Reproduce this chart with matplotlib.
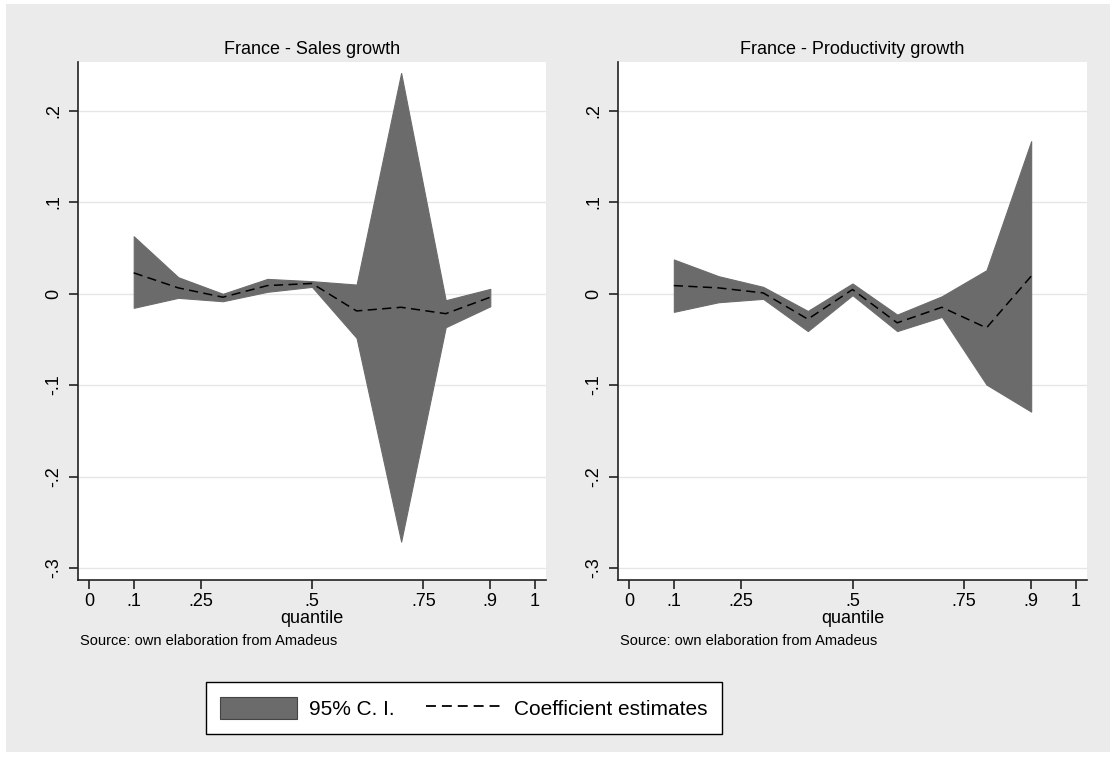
import matplotlib
matplotlib.use("Agg")
import matplotlib.pyplot as plt
from matplotlib.patches import Rectangle, Patch
from matplotlib.lines import Line2D

plt.rcParams['font.family'] = ['Liberation Sans', 'DejaVu Sans']

quantiles = [0.1, 0.2, 0.3, 0.4, 0.5, 0.6, 0.7, 0.8, 0.9]

sales_upper = [0.0626, 0.0178, -0.0003, 0.016, 0.0135, 0.0098, 0.241, -0.0073, 0.0051]
sales_lower = [-0.0156, -0.0047, -0.0084, 0.0019, 0.0073, -0.0485, -0.271, -0.0368, -0.0139]
sales_coef = [0.0226, 0.0062, -0.004, 0.0087, 0.011, -0.019, -0.015, -0.022, -0.004]

prod_upper = [0.0372, 0.019, 0.0073, -0.019, 0.011, -0.023, -0.003, 0.0255, 0.1665]
prod_lower = [-0.020, -0.0095, -0.0058, -0.041, -0.0018, -0.041, -0.0255, -0.0995, -0.129]
prod_coef = [0.0087, 0.0062, 0.0007, -0.028, 0.0044, -0.032, -0.015, -0.0375, 0.019]

titles = ["France - Sales growth", "France - Productivity growth"]
xticks = [0, 0.1, 0.25, 0.5, 0.75, 0.9, 1]
xticklabels = ["0", ".1", ".25", ".5", ".75", ".9", "1"]
yticks = [-0.3, -0.2, -0.1, 0, 0.1, 0.2]
yticklabels = ["-.3", "-.2", "-.1", "0", ".1", ".2"]
source = "Source: own elaboration from Amadeus"
xlabel = "quantile"
legend_labels = ["95% C. I.", "Coefficient estimates"]

W, H = 1115, 757
fig = plt.figure(figsize=(W / 100, H / 100), dpi=100, facecolor='white')
bg = '#ebebeb'
fig.patches.append(Rectangle((6 / W, 1 - 752 / H), (1110 - 6) / W, (752 - 4) / H,
                             transform=fig.transFigure, facecolor=bg, edgecolor='none', zorder=-10))

fillc = '#6b6b6b'
panels = [(78, 546, sales_upper, sales_lower, sales_coef),
          (618, 1087, prod_upper, prod_lower, prod_coef)]
top_px, bot_px = 62, 580

for i, (lpx, rpx, up, lo, co) in enumerate(panels):
    ax = fig.add_axes([lpx / W, 1 - bot_px / H, (rpx - lpx) / W, (bot_px - top_px) / H])
    ax.set_facecolor('white')
    ax.fill_between(quantiles, lo, up, facecolor=fillc, edgecolor=fillc, linewidth=0.8, zorder=2)
    ax.plot(quantiles, co, color='black', linestyle=(0, (6, 3.5)), linewidth=1.1, zorder=3)
    ax.set_xlim(-0.025, 1.025)
    ax.set_ylim(-0.313, 0.253)
    ax.set_yticks(yticks)
    ax.set_yticklabels(yticklabels, rotation=90, va='center', fontsize=13)
    ax.set_xticks(xticks)
    ax.set_xticklabels(xticklabels, fontsize=13)
    ax.grid(axis='y', color='#e6e6e6', linewidth=1.0, zorder=1)
    ax.set_axisbelow(True)
    for s in ['top', 'right']:
        ax.spines[s].set_visible(False)
    for s in ['left', 'bottom']:
        ax.spines[s].set_linewidth(1.2)
        ax.spines[s].set_color('#222222')
    ax.tick_params(axis='both', direction='out', length=6.5, width=1.2, color='#222222', pad=3)
    ax.tick_params(axis='y', pad=5)
    ax.set_title(titles[i], fontsize=13, pad=6)
    ax.set_xlabel(xlabel, fontsize=13, labelpad=0)
    fig.text((lpx + 2) / W, 1 - 641 / H, source, fontsize=10.5, va='center', ha='left')

handles = [Patch(facecolor=fillc, edgecolor='#444444', linewidth=0.8),
           Line2D([0], [0], color='black', linestyle=(0, (5.5, 3.3)), linewidth=1.3)]
leg = fig.legend(handles, legend_labels, loc='center', ncol=2,
                 bbox_to_anchor=(464 / W, 1 - 708 / H), fontsize=15,
                 frameon=True, fancybox=False, edgecolor='black', facecolor='white',
                 handlelength=3.7, handleheight=1.25, columnspacing=1.5, handletextpad=0.55,
                 borderpad=0.7, borderaxespad=0)
leg.get_frame().set_linewidth(1.0)
leg.get_frame().set_alpha(1)

fig.savefig('out.png', dpi=100, facecolor='white')
